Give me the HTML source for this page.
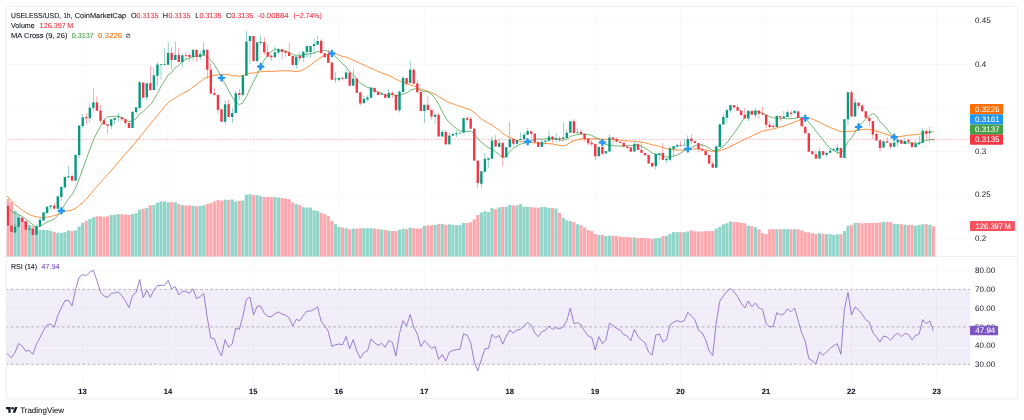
<!DOCTYPE html>
<html lang="en"><head><meta charset="utf-8"><title>USELESS/USD chart</title>
<style>
html,body{margin:0;padding:0;background:#fff;}
body{width:1024px;height:420px;position:relative;overflow:hidden;font-family:"Liberation Sans",sans-serif;text-rendering:geometricPrecision;}
#chart{position:absolute;left:0;top:0;width:1024px;height:420px;font-family:"Liberation Sans",sans-serif;}
</style></head><body>
<svg id="chart" width="1024" height="420" viewBox="0 0 1024 420">
<rect x="6.2" y="6.3" width="1011.5" height="392.65" rx="1.2" fill="#fff" stroke="#eaedf4" stroke-width="1"/>
<g id="grid" fill="#2a2e39" fill-opacity="0.042">
<rect x="82.15" y="6.8" width="0.7" height="375.4" />
<rect x="167.58" y="6.8" width="0.7" height="375.4" />
<rect x="253.00" y="6.8" width="0.7" height="375.4" />
<rect x="338.43" y="6.8" width="0.7" height="375.4" />
<rect x="423.85" y="6.8" width="0.7" height="375.4" />
<rect x="509.28" y="6.8" width="0.7" height="375.4" />
<rect x="594.70" y="6.8" width="0.7" height="375.4" />
<rect x="680.13" y="6.8" width="0.7" height="375.4" />
<rect x="765.56" y="6.8" width="0.7" height="375.4" />
<rect x="850.98" y="6.8" width="0.7" height="375.4" />
<rect x="936.41" y="6.8" width="0.7" height="375.4" />
<rect x="6.7" y="20.00" width="963.5" height="0.7"/>
<rect x="6.7" y="64.10" width="963.5" height="0.7"/>
<rect x="6.7" y="107.20" width="963.5" height="0.7"/>
<rect x="6.7" y="151.05" width="963.5" height="0.7"/>
<rect x="6.7" y="194.90" width="963.5" height="0.7"/>
<rect x="6.7" y="238.15" width="963.5" height="0.7"/>
<rect x="6.7" y="270.32" width="963.5" height="0.7"/>
<rect x="6.7" y="307.77" width="963.5" height="0.7"/>
<rect x="6.7" y="345.22" width="963.5" height="0.7"/>
</g>
<rect x="6.3" y="256.05" width="1011.3" height="0.9" fill="#eceef4"/>
<g id="rsiband">
<rect x="6.8" y="289.40" width="963.4" height="74.90" fill="#7e57c2" fill-opacity="0.1"/>
<path d="M6.8,289.40H970.2M6.8,326.85H970.2M6.8,364.30H970.2" stroke="#787b86" stroke-width="0.6" stroke-dasharray="2.7,2.42" stroke-dashoffset="1.2" fill="none" opacity="0.9"/>
</g>
<g id="volume">
<rect x="6.80" y="198.68" width="2.75" height="57.82" fill="#fba9af"/>
<rect x="9.91" y="202.20" width="3.20" height="54.30" fill="#fba9af"/>
<rect x="13.47" y="210.65" width="3.20" height="45.85" fill="#91d5ca"/>
<rect x="17.03" y="215.05" width="3.20" height="41.45" fill="#91d5ca"/>
<rect x="20.59" y="217.69" width="3.20" height="38.81" fill="#fba9af"/>
<rect x="24.15" y="221.21" width="3.20" height="35.29" fill="#fba9af"/>
<rect x="27.71" y="225.08" width="3.20" height="31.42" fill="#91d5ca"/>
<rect x="31.27" y="226.14" width="3.20" height="30.36" fill="#fba9af"/>
<rect x="34.83" y="226.85" width="3.20" height="29.65" fill="#91d5ca"/>
<rect x="38.39" y="230.01" width="3.20" height="26.49" fill="#91d5ca"/>
<rect x="41.95" y="230.01" width="3.20" height="26.49" fill="#91d5ca"/>
<rect x="45.51" y="230.01" width="3.20" height="26.49" fill="#91d5ca"/>
<rect x="49.07" y="230.89" width="3.20" height="25.61" fill="#91d5ca"/>
<rect x="52.63" y="232.13" width="3.20" height="24.37" fill="#fba9af"/>
<rect x="56.18" y="232.83" width="3.20" height="23.67" fill="#91d5ca"/>
<rect x="59.74" y="232.83" width="3.20" height="23.67" fill="#91d5ca"/>
<rect x="63.30" y="232.13" width="3.20" height="24.37" fill="#91d5ca"/>
<rect x="66.86" y="230.37" width="3.20" height="26.13" fill="#91d5ca"/>
<rect x="70.42" y="231.07" width="3.20" height="25.43" fill="#fba9af"/>
<rect x="73.98" y="230.37" width="3.20" height="26.13" fill="#91d5ca"/>
<rect x="77.54" y="226.49" width="3.20" height="30.01" fill="#91d5ca"/>
<rect x="81.10" y="222.97" width="3.20" height="33.53" fill="#91d5ca"/>
<rect x="84.66" y="220.86" width="3.20" height="35.64" fill="#fba9af"/>
<rect x="88.22" y="219.10" width="3.20" height="37.40" fill="#91d5ca"/>
<rect x="91.78" y="217.34" width="3.20" height="39.16" fill="#91d5ca"/>
<rect x="95.34" y="216.28" width="3.20" height="40.22" fill="#fba9af"/>
<rect x="98.90" y="216.28" width="3.20" height="40.22" fill="#fba9af"/>
<rect x="102.46" y="216.81" width="3.20" height="39.69" fill="#fba9af"/>
<rect x="106.02" y="216.28" width="3.20" height="40.22" fill="#fba9af"/>
<rect x="109.58" y="215.05" width="3.20" height="41.45" fill="#91d5ca"/>
<rect x="113.14" y="214.70" width="3.20" height="41.80" fill="#91d5ca"/>
<rect x="116.69" y="214.17" width="3.20" height="42.33" fill="#91d5ca"/>
<rect x="120.25" y="214.17" width="3.20" height="42.33" fill="#fba9af"/>
<rect x="123.81" y="214.52" width="3.20" height="41.98" fill="#fba9af"/>
<rect x="127.37" y="215.05" width="3.20" height="41.45" fill="#fba9af"/>
<rect x="130.93" y="214.17" width="3.20" height="42.33" fill="#91d5ca"/>
<rect x="134.49" y="213.29" width="3.20" height="43.21" fill="#91d5ca"/>
<rect x="138.05" y="209.77" width="3.20" height="46.73" fill="#91d5ca"/>
<rect x="141.61" y="208.89" width="3.20" height="47.61" fill="#fba9af"/>
<rect x="145.17" y="208.01" width="3.20" height="48.49" fill="#91d5ca"/>
<rect x="148.73" y="205.37" width="3.20" height="51.13" fill="#fba9af"/>
<rect x="152.29" y="205.01" width="3.20" height="51.49" fill="#91d5ca"/>
<rect x="155.85" y="202.73" width="3.20" height="53.77" fill="#91d5ca"/>
<rect x="159.41" y="201.49" width="3.20" height="55.01" fill="#91d5ca"/>
<rect x="162.97" y="201.49" width="3.20" height="55.01" fill="#91d5ca"/>
<rect x="166.53" y="202.20" width="3.20" height="54.30" fill="#91d5ca"/>
<rect x="170.09" y="202.20" width="3.20" height="54.30" fill="#fba9af"/>
<rect x="173.65" y="202.20" width="3.20" height="54.30" fill="#91d5ca"/>
<rect x="177.20" y="204.13" width="3.20" height="52.37" fill="#fba9af"/>
<rect x="180.76" y="205.01" width="3.20" height="51.49" fill="#91d5ca"/>
<rect x="184.32" y="205.37" width="3.20" height="51.13" fill="#fba9af"/>
<rect x="187.88" y="205.37" width="3.20" height="51.13" fill="#fba9af"/>
<rect x="191.44" y="205.89" width="3.20" height="50.61" fill="#91d5ca"/>
<rect x="195.00" y="206.25" width="3.20" height="50.25" fill="#fba9af"/>
<rect x="198.56" y="205.89" width="3.20" height="50.61" fill="#91d5ca"/>
<rect x="202.12" y="205.37" width="3.20" height="51.13" fill="#91d5ca"/>
<rect x="205.68" y="203.96" width="3.20" height="52.54" fill="#fba9af"/>
<rect x="209.24" y="203.08" width="3.20" height="53.42" fill="#fba9af"/>
<rect x="212.80" y="201.49" width="3.20" height="55.01" fill="#fba9af"/>
<rect x="216.36" y="200.08" width="3.20" height="56.42" fill="#fba9af"/>
<rect x="219.92" y="200.61" width="3.20" height="55.89" fill="#fba9af"/>
<rect x="223.48" y="199.56" width="3.20" height="56.94" fill="#91d5ca"/>
<rect x="227.04" y="200.08" width="3.20" height="56.42" fill="#fba9af"/>
<rect x="230.60" y="199.56" width="3.20" height="56.94" fill="#91d5ca"/>
<rect x="234.15" y="201.49" width="3.20" height="55.01" fill="#91d5ca"/>
<rect x="237.71" y="200.96" width="3.20" height="55.54" fill="#fba9af"/>
<rect x="241.27" y="200.61" width="3.20" height="55.89" fill="#91d5ca"/>
<rect x="244.83" y="194.80" width="3.20" height="61.70" fill="#91d5ca"/>
<rect x="248.39" y="194.10" width="3.20" height="62.40" fill="#91d5ca"/>
<rect x="251.95" y="195.15" width="3.20" height="61.35" fill="#fba9af"/>
<rect x="255.51" y="195.15" width="3.20" height="61.35" fill="#91d5ca"/>
<rect x="259.07" y="196.21" width="3.20" height="60.29" fill="#91d5ca"/>
<rect x="262.63" y="196.92" width="3.20" height="59.58" fill="#fba9af"/>
<rect x="266.19" y="196.92" width="3.20" height="59.58" fill="#fba9af"/>
<rect x="269.75" y="197.09" width="3.20" height="59.41" fill="#fba9af"/>
<rect x="273.31" y="197.09" width="3.20" height="59.41" fill="#91d5ca"/>
<rect x="276.87" y="197.62" width="3.20" height="58.88" fill="#91d5ca"/>
<rect x="280.43" y="197.97" width="3.20" height="58.53" fill="#fba9af"/>
<rect x="283.99" y="198.68" width="3.20" height="57.82" fill="#fba9af"/>
<rect x="287.55" y="199.20" width="3.20" height="57.30" fill="#fba9af"/>
<rect x="291.11" y="202.37" width="3.20" height="54.13" fill="#fba9af"/>
<rect x="294.66" y="203.96" width="3.20" height="52.54" fill="#91d5ca"/>
<rect x="298.22" y="205.01" width="3.20" height="51.49" fill="#fba9af"/>
<rect x="301.78" y="207.13" width="3.20" height="49.37" fill="#91d5ca"/>
<rect x="305.34" y="207.65" width="3.20" height="48.85" fill="#91d5ca"/>
<rect x="308.90" y="207.65" width="3.20" height="48.85" fill="#91d5ca"/>
<rect x="312.46" y="210.30" width="3.20" height="46.20" fill="#91d5ca"/>
<rect x="316.02" y="211.00" width="3.20" height="45.50" fill="#91d5ca"/>
<rect x="319.58" y="212.94" width="3.20" height="43.56" fill="#fba9af"/>
<rect x="323.14" y="214.17" width="3.20" height="42.33" fill="#fba9af"/>
<rect x="326.70" y="215.93" width="3.20" height="40.57" fill="#fba9af"/>
<rect x="330.26" y="220.86" width="3.20" height="35.64" fill="#fba9af"/>
<rect x="333.82" y="224.20" width="3.20" height="32.30" fill="#91d5ca"/>
<rect x="337.38" y="226.85" width="3.20" height="29.65" fill="#91d5ca"/>
<rect x="340.94" y="227.55" width="3.20" height="28.95" fill="#fba9af"/>
<rect x="344.50" y="228.25" width="3.20" height="28.25" fill="#91d5ca"/>
<rect x="348.06" y="229.31" width="3.20" height="27.19" fill="#fba9af"/>
<rect x="351.61" y="228.61" width="3.20" height="27.89" fill="#91d5ca"/>
<rect x="355.17" y="228.61" width="3.20" height="27.89" fill="#fba9af"/>
<rect x="358.73" y="228.25" width="3.20" height="28.25" fill="#fba9af"/>
<rect x="362.29" y="228.25" width="3.20" height="28.25" fill="#91d5ca"/>
<rect x="365.85" y="228.25" width="3.20" height="28.25" fill="#91d5ca"/>
<rect x="369.41" y="228.25" width="3.20" height="28.25" fill="#91d5ca"/>
<rect x="372.97" y="228.61" width="3.20" height="27.89" fill="#fba9af"/>
<rect x="376.53" y="229.13" width="3.20" height="27.37" fill="#fba9af"/>
<rect x="380.09" y="229.49" width="3.20" height="27.01" fill="#91d5ca"/>
<rect x="383.65" y="230.01" width="3.20" height="26.49" fill="#fba9af"/>
<rect x="387.21" y="230.54" width="3.20" height="25.96" fill="#91d5ca"/>
<rect x="390.77" y="231.07" width="3.20" height="25.43" fill="#fba9af"/>
<rect x="394.33" y="231.07" width="3.20" height="25.43" fill="#fba9af"/>
<rect x="397.89" y="229.66" width="3.20" height="26.84" fill="#91d5ca"/>
<rect x="401.45" y="228.61" width="3.20" height="27.89" fill="#91d5ca"/>
<rect x="405.01" y="229.13" width="3.20" height="27.37" fill="#fba9af"/>
<rect x="408.57" y="227.55" width="3.20" height="28.95" fill="#91d5ca"/>
<rect x="412.12" y="228.25" width="3.20" height="28.25" fill="#fba9af"/>
<rect x="415.68" y="228.61" width="3.20" height="27.89" fill="#fba9af"/>
<rect x="419.24" y="228.25" width="3.20" height="28.25" fill="#fba9af"/>
<rect x="422.80" y="225.96" width="3.20" height="30.54" fill="#91d5ca"/>
<rect x="426.36" y="225.26" width="3.20" height="31.24" fill="#fba9af"/>
<rect x="429.92" y="225.26" width="3.20" height="31.24" fill="#fba9af"/>
<rect x="433.48" y="224.91" width="3.20" height="31.59" fill="#91d5ca"/>
<rect x="437.04" y="223.85" width="3.20" height="32.65" fill="#fba9af"/>
<rect x="440.60" y="223.85" width="3.20" height="32.65" fill="#91d5ca"/>
<rect x="444.16" y="224.73" width="3.20" height="31.77" fill="#fba9af"/>
<rect x="447.72" y="224.20" width="3.20" height="32.30" fill="#91d5ca"/>
<rect x="451.28" y="224.91" width="3.20" height="31.59" fill="#91d5ca"/>
<rect x="454.84" y="225.26" width="3.20" height="31.24" fill="#91d5ca"/>
<rect x="458.40" y="225.26" width="3.20" height="31.24" fill="#91d5ca"/>
<rect x="461.96" y="222.97" width="3.20" height="33.53" fill="#91d5ca"/>
<rect x="465.52" y="222.97" width="3.20" height="33.53" fill="#fba9af"/>
<rect x="469.08" y="222.27" width="3.20" height="34.23" fill="#fba9af"/>
<rect x="472.63" y="219.45" width="3.20" height="37.05" fill="#fba9af"/>
<rect x="476.19" y="215.05" width="3.20" height="41.45" fill="#fba9af"/>
<rect x="479.75" y="212.41" width="3.20" height="44.09" fill="#91d5ca"/>
<rect x="483.31" y="211.18" width="3.20" height="45.32" fill="#91d5ca"/>
<rect x="486.87" y="212.06" width="3.20" height="44.44" fill="#91d5ca"/>
<rect x="490.43" y="208.18" width="3.20" height="48.32" fill="#91d5ca"/>
<rect x="493.99" y="209.24" width="3.20" height="47.26" fill="#fba9af"/>
<rect x="497.55" y="207.30" width="3.20" height="49.20" fill="#91d5ca"/>
<rect x="501.11" y="206.77" width="3.20" height="49.73" fill="#fba9af"/>
<rect x="504.67" y="206.77" width="3.20" height="49.73" fill="#91d5ca"/>
<rect x="508.23" y="205.01" width="3.20" height="51.49" fill="#91d5ca"/>
<rect x="511.79" y="205.37" width="3.20" height="51.13" fill="#fba9af"/>
<rect x="515.35" y="205.37" width="3.20" height="51.13" fill="#91d5ca"/>
<rect x="518.91" y="204.13" width="3.20" height="52.37" fill="#91d5ca"/>
<rect x="522.47" y="206.77" width="3.20" height="49.73" fill="#91d5ca"/>
<rect x="526.03" y="206.77" width="3.20" height="49.73" fill="#91d5ca"/>
<rect x="529.58" y="207.13" width="3.20" height="49.37" fill="#fba9af"/>
<rect x="533.14" y="207.65" width="3.20" height="48.85" fill="#fba9af"/>
<rect x="536.70" y="207.65" width="3.20" height="48.85" fill="#fba9af"/>
<rect x="540.26" y="207.13" width="3.20" height="49.37" fill="#91d5ca"/>
<rect x="543.82" y="207.13" width="3.20" height="49.37" fill="#91d5ca"/>
<rect x="547.38" y="208.01" width="3.20" height="48.49" fill="#91d5ca"/>
<rect x="550.94" y="208.01" width="3.20" height="48.49" fill="#fba9af"/>
<rect x="554.50" y="208.54" width="3.20" height="47.96" fill="#91d5ca"/>
<rect x="558.06" y="212.94" width="3.20" height="43.56" fill="#fba9af"/>
<rect x="561.62" y="217.69" width="3.20" height="38.81" fill="#91d5ca"/>
<rect x="565.18" y="220.33" width="3.20" height="36.17" fill="#91d5ca"/>
<rect x="568.74" y="221.21" width="3.20" height="35.29" fill="#91d5ca"/>
<rect x="572.30" y="222.09" width="3.20" height="34.41" fill="#fba9af"/>
<rect x="575.86" y="224.20" width="3.20" height="32.30" fill="#91d5ca"/>
<rect x="579.42" y="225.26" width="3.20" height="31.24" fill="#fba9af"/>
<rect x="582.98" y="227.55" width="3.20" height="28.95" fill="#fba9af"/>
<rect x="586.54" y="230.01" width="3.20" height="26.49" fill="#fba9af"/>
<rect x="590.09" y="231.07" width="3.20" height="25.43" fill="#fba9af"/>
<rect x="593.65" y="234.06" width="3.20" height="22.44" fill="#fba9af"/>
<rect x="597.21" y="234.94" width="3.20" height="21.56" fill="#91d5ca"/>
<rect x="600.77" y="234.94" width="3.20" height="21.56" fill="#fba9af"/>
<rect x="604.33" y="236.00" width="3.20" height="20.50" fill="#91d5ca"/>
<rect x="607.89" y="235.65" width="3.20" height="20.85" fill="#91d5ca"/>
<rect x="611.45" y="235.65" width="3.20" height="20.85" fill="#fba9af"/>
<rect x="615.01" y="236.18" width="3.20" height="20.32" fill="#fba9af"/>
<rect x="618.57" y="236.53" width="3.20" height="19.97" fill="#fba9af"/>
<rect x="622.13" y="237.06" width="3.20" height="19.44" fill="#fba9af"/>
<rect x="625.69" y="237.06" width="3.20" height="19.44" fill="#fba9af"/>
<rect x="629.25" y="237.41" width="3.20" height="19.09" fill="#fba9af"/>
<rect x="632.81" y="237.41" width="3.20" height="19.09" fill="#91d5ca"/>
<rect x="636.37" y="237.94" width="3.20" height="18.56" fill="#fba9af"/>
<rect x="639.93" y="237.94" width="3.20" height="18.56" fill="#fba9af"/>
<rect x="643.49" y="237.94" width="3.20" height="18.56" fill="#fba9af"/>
<rect x="647.05" y="238.29" width="3.20" height="18.21" fill="#fba9af"/>
<rect x="650.60" y="238.82" width="3.20" height="17.68" fill="#fba9af"/>
<rect x="654.16" y="238.29" width="3.20" height="18.21" fill="#91d5ca"/>
<rect x="657.72" y="237.94" width="3.20" height="18.56" fill="#91d5ca"/>
<rect x="661.28" y="236.18" width="3.20" height="20.32" fill="#fba9af"/>
<rect x="664.84" y="235.65" width="3.20" height="20.85" fill="#91d5ca"/>
<rect x="668.40" y="233.89" width="3.20" height="22.61" fill="#91d5ca"/>
<rect x="671.96" y="232.13" width="3.20" height="24.37" fill="#91d5ca"/>
<rect x="675.52" y="232.13" width="3.20" height="24.37" fill="#91d5ca"/>
<rect x="679.08" y="232.13" width="3.20" height="24.37" fill="#fba9af"/>
<rect x="682.64" y="232.13" width="3.20" height="24.37" fill="#91d5ca"/>
<rect x="686.20" y="231.42" width="3.20" height="25.08" fill="#91d5ca"/>
<rect x="689.76" y="230.37" width="3.20" height="26.13" fill="#fba9af"/>
<rect x="693.32" y="231.42" width="3.20" height="25.08" fill="#fba9af"/>
<rect x="696.88" y="231.42" width="3.20" height="25.08" fill="#fba9af"/>
<rect x="700.44" y="231.42" width="3.20" height="25.08" fill="#fba9af"/>
<rect x="704.00" y="231.07" width="3.20" height="25.43" fill="#fba9af"/>
<rect x="707.55" y="231.07" width="3.20" height="25.43" fill="#fba9af"/>
<rect x="711.11" y="231.07" width="3.20" height="25.43" fill="#fba9af"/>
<rect x="714.67" y="228.61" width="3.20" height="27.89" fill="#91d5ca"/>
<rect x="718.23" y="226.85" width="3.20" height="29.65" fill="#91d5ca"/>
<rect x="721.79" y="224.20" width="3.20" height="32.30" fill="#91d5ca"/>
<rect x="725.35" y="223.32" width="3.20" height="33.18" fill="#91d5ca"/>
<rect x="728.91" y="221.39" width="3.20" height="35.11" fill="#91d5ca"/>
<rect x="732.47" y="222.09" width="3.20" height="34.41" fill="#fba9af"/>
<rect x="736.03" y="222.09" width="3.20" height="34.41" fill="#fba9af"/>
<rect x="739.59" y="222.97" width="3.20" height="33.53" fill="#fba9af"/>
<rect x="743.15" y="223.32" width="3.20" height="33.18" fill="#fba9af"/>
<rect x="746.71" y="225.79" width="3.20" height="30.71" fill="#91d5ca"/>
<rect x="750.27" y="226.14" width="3.20" height="30.36" fill="#fba9af"/>
<rect x="753.83" y="227.20" width="3.20" height="29.30" fill="#91d5ca"/>
<rect x="757.39" y="229.31" width="3.20" height="27.19" fill="#fba9af"/>
<rect x="760.95" y="233.18" width="3.20" height="23.32" fill="#fba9af"/>
<rect x="764.51" y="234.24" width="3.20" height="22.26" fill="#fba9af"/>
<rect x="768.06" y="229.31" width="3.20" height="27.19" fill="#fba9af"/>
<rect x="771.62" y="229.31" width="3.20" height="27.19" fill="#fba9af"/>
<rect x="775.18" y="229.31" width="3.20" height="27.19" fill="#91d5ca"/>
<rect x="778.74" y="229.13" width="3.20" height="27.37" fill="#fba9af"/>
<rect x="782.30" y="229.13" width="3.20" height="27.37" fill="#91d5ca"/>
<rect x="785.86" y="229.13" width="3.20" height="27.37" fill="#91d5ca"/>
<rect x="789.42" y="229.31" width="3.20" height="27.19" fill="#fba9af"/>
<rect x="792.98" y="229.31" width="3.20" height="27.19" fill="#91d5ca"/>
<rect x="796.54" y="229.31" width="3.20" height="27.19" fill="#fba9af"/>
<rect x="800.10" y="230.37" width="3.20" height="26.13" fill="#fba9af"/>
<rect x="803.66" y="232.13" width="3.20" height="24.37" fill="#fba9af"/>
<rect x="807.22" y="232.13" width="3.20" height="24.37" fill="#fba9af"/>
<rect x="810.78" y="233.18" width="3.20" height="23.32" fill="#fba9af"/>
<rect x="814.34" y="234.06" width="3.20" height="22.44" fill="#fba9af"/>
<rect x="817.90" y="233.18" width="3.20" height="23.32" fill="#91d5ca"/>
<rect x="821.46" y="233.89" width="3.20" height="22.61" fill="#fba9af"/>
<rect x="825.02" y="234.06" width="3.20" height="22.44" fill="#91d5ca"/>
<rect x="828.57" y="234.24" width="3.20" height="22.26" fill="#91d5ca"/>
<rect x="832.13" y="234.77" width="3.20" height="21.73" fill="#91d5ca"/>
<rect x="835.69" y="234.24" width="3.20" height="22.26" fill="#91d5ca"/>
<rect x="839.25" y="234.24" width="3.20" height="22.26" fill="#fba9af"/>
<rect x="842.81" y="231.07" width="3.20" height="25.43" fill="#91d5ca"/>
<rect x="846.37" y="225.79" width="3.20" height="30.71" fill="#91d5ca"/>
<rect x="849.93" y="225.08" width="3.20" height="31.42" fill="#fba9af"/>
<rect x="853.49" y="222.97" width="3.20" height="33.53" fill="#91d5ca"/>
<rect x="857.05" y="222.97" width="3.20" height="33.53" fill="#fba9af"/>
<rect x="860.61" y="223.32" width="3.20" height="33.18" fill="#fba9af"/>
<rect x="864.17" y="222.97" width="3.20" height="33.53" fill="#fba9af"/>
<rect x="867.73" y="222.97" width="3.20" height="33.53" fill="#fba9af"/>
<rect x="871.29" y="222.97" width="3.20" height="33.53" fill="#fba9af"/>
<rect x="874.85" y="222.97" width="3.20" height="33.53" fill="#fba9af"/>
<rect x="878.41" y="222.44" width="3.20" height="34.06" fill="#fba9af"/>
<rect x="881.97" y="222.09" width="3.20" height="34.41" fill="#91d5ca"/>
<rect x="885.52" y="222.09" width="3.20" height="34.41" fill="#fba9af"/>
<rect x="889.08" y="222.09" width="3.20" height="34.41" fill="#fba9af"/>
<rect x="892.64" y="223.85" width="3.20" height="32.65" fill="#91d5ca"/>
<rect x="896.20" y="223.85" width="3.20" height="32.65" fill="#91d5ca"/>
<rect x="899.76" y="224.20" width="3.20" height="32.30" fill="#fba9af"/>
<rect x="903.32" y="224.73" width="3.20" height="31.77" fill="#91d5ca"/>
<rect x="906.88" y="225.08" width="3.20" height="31.42" fill="#fba9af"/>
<rect x="910.44" y="225.08" width="3.20" height="31.42" fill="#fba9af"/>
<rect x="914.00" y="225.79" width="3.20" height="30.71" fill="#91d5ca"/>
<rect x="917.56" y="225.08" width="3.20" height="31.42" fill="#91d5ca"/>
<rect x="921.12" y="224.20" width="3.20" height="32.30" fill="#91d5ca"/>
<rect x="924.68" y="224.20" width="3.20" height="32.30" fill="#fba9af"/>
<rect x="928.24" y="224.73" width="3.20" height="31.77" fill="#91d5ca"/>
<rect x="931.80" y="226.14" width="3.20" height="30.36" fill="#fba9af"/>
</g>
<path d="M6.8,139.36H970.2" stroke="#f23645" stroke-width="0.6" stroke-dasharray="2,1.35" stroke-dashoffset="1.6" fill="none" opacity="0.55"/>
<clipPath id="cp"><rect x="6.8" y="6.8" width="963.4" height="249"/></clipPath>
<clipPath id="cr"><rect x="6.8" y="257" width="963.4" height="125"/></clipPath>
<g clip-path="url(#cp)" fill="none" stroke-linejoin="round" stroke-linecap="round">
<path d="M4.39,193.00 L7.95,196.90 L11.51,200.90 L15.07,204.50 L18.63,207.50 L22.19,210.10 L25.75,212.40 L29.31,214.50 L32.87,215.90 L36.43,216.80 L39.99,217.40 L43.55,217.40 L47.11,217.10 L50.67,216.40 L54.23,215.70 L57.78,214.60 L61.34,212.60 L64.90,211.60 L68.46,210.80 L72.02,210.10 L75.58,208.40 L79.14,205.60 L82.70,202.50 L86.26,199.00 L89.82,195.00 L93.38,190.60 L96.94,186.55 L100.50,182.52 L104.06,178.39 L107.62,174.50 L111.18,170.71 L114.74,166.72 L118.29,162.36 L121.85,158.15 L125.41,153.84 L128.97,150.06 L132.53,145.91 L136.09,141.88 L139.65,137.09 L143.21,132.94 L146.77,128.12 L150.33,124.04 L153.89,119.75 L157.45,115.43 L161.01,111.12 L164.57,106.63 L168.13,102.72 L171.69,100.20 L175.25,97.80 L178.80,95.63 L182.36,93.62 L185.92,91.83 L189.48,89.76 L193.04,87.03 L196.60,84.43 L200.16,81.68 L203.72,79.00 L207.28,77.15 L210.84,76.27 L214.40,75.33 L217.96,74.83 L221.52,74.59 L225.08,74.30 L228.64,74.67 L232.20,75.85 L235.75,75.68 L239.31,76.12 L242.87,75.55 L246.43,74.25 L249.99,73.15 L253.55,73.03 L257.11,72.19 L260.67,71.76 L264.23,71.46 L267.79,71.52 L271.35,71.34 L274.91,71.22 L278.47,70.97 L282.03,70.76 L285.59,70.88 L289.15,70.84 L292.71,71.26 L296.26,71.52 L299.82,71.08 L303.38,69.47 L306.94,67.59 L310.50,65.13 L314.06,62.14 L317.62,59.71 L321.18,57.26 L324.74,55.12 L328.30,53.95 L331.86,53.37 L335.42,53.49 L338.98,54.88 L342.54,56.53 L346.10,56.97 L349.66,58.64 L353.21,60.06 L356.77,61.62 L360.33,63.43 L363.89,65.02 L367.45,66.76 L371.01,68.24 L374.57,69.80 L378.13,71.42 L381.69,72.87 L385.25,74.13 L388.81,75.52 L392.37,76.93 L395.93,79.19 L399.49,80.94 L403.05,82.17 L406.61,83.68 L410.17,84.79 L413.72,85.96 L417.28,87.31 L420.84,89.16 L424.40,90.12 L427.96,91.33 L431.52,92.82 L435.08,94.20 L438.64,96.66 L442.20,98.44 L445.76,100.97 L449.32,102.62 L452.88,103.79 L456.44,105.11 L460.00,106.47 L463.56,107.64 L467.12,108.70 L470.68,110.00 L474.23,112.58 L477.79,115.86 L481.35,118.88 L484.91,121.34 L488.47,123.17 L492.03,125.06 L495.59,127.70 L499.15,129.99 L502.71,133.37 L506.27,135.81 L509.83,137.62 L513.39,138.88 L516.95,140.24 L520.51,141.35 L524.07,142.05 L527.63,142.68 L531.18,142.57 L534.74,142.97 L538.30,143.07 L541.86,143.31 L545.42,143.56 L548.98,143.69 L552.54,143.96 L556.10,144.73 L559.66,145.49 L563.22,145.82 L566.78,144.75 L570.34,142.37 L573.90,140.90 L577.46,139.88 L581.02,138.96 L584.58,138.89 L588.14,138.76 L591.69,138.81 L595.25,138.76 L598.81,138.75 L602.37,139.30 L605.93,139.58 L609.49,139.48 L613.05,139.49 L616.61,139.76 L620.17,140.22 L623.73,140.72 L627.29,140.94 L630.85,141.13 L634.41,141.22 L637.97,141.58 L641.53,142.20 L645.09,142.80 L648.65,143.78 L652.20,144.82 L655.76,145.46 L659.32,146.25 L662.88,147.73 L666.44,148.71 L670.00,149.33 L673.56,149.79 L677.12,150.02 L680.68,150.12 L684.24,150.14 L687.80,149.48 L691.36,149.25 L694.92,148.84 L698.48,148.77 L702.04,149.29 L705.60,149.90 L709.15,150.75 L712.71,151.70 L716.27,151.69 L719.83,150.77 L723.39,149.44 L726.95,148.12 L730.51,146.40 L734.07,144.67 L737.63,142.96 L741.19,141.09 L744.75,139.25 L748.31,137.58 L751.87,136.10 L755.43,134.20 L758.99,132.48 L762.55,131.19 L766.11,130.37 L769.66,129.68 L773.22,128.96 L776.78,127.84 L780.34,127.00 L783.90,126.05 L787.46,124.87 L791.02,123.51 L794.58,121.98 L798.14,120.55 L801.70,119.12 L805.26,117.79 L808.82,117.99 L812.38,119.14 L815.94,120.75 L819.50,122.32 L823.06,124.24 L826.62,125.98 L830.17,127.52 L833.73,128.83 L837.29,129.97 L840.85,131.77 L844.41,131.95 L847.97,131.25 L851.53,131.35 L855.09,130.88 L858.65,130.15 L862.21,129.55 L865.77,129.19 L869.33,129.39 L872.89,130.06 L876.45,130.99 L880.01,132.36 L883.57,133.41 L887.12,134.63 L890.68,135.75 L894.24,136.36 L897.80,136.62 L901.36,136.31 L904.92,135.80 L908.48,135.15 L912.04,135.00 L915.60,134.58 L919.16,134.18 L922.72,133.41 L926.28,132.81 L929.84,132.18 L933.40,131.49" stroke="#ff6d00" stroke-width="0.75"/>
<path d="M4.39,206.50 L7.95,208.30 L11.51,210.90 L15.07,213.24 L18.63,214.57 L22.19,216.36 L25.75,219.02 L29.31,221.57 L32.87,224.81 L36.43,227.08 L39.99,226.43 L43.55,224.25 L47.11,222.00 L50.67,220.65 L54.23,219.19 L57.78,215.47 L61.34,210.82 L64.90,204.36 L68.46,198.81 L72.02,194.46 L75.58,188.07 L79.14,179.06 L82.70,169.25 L86.26,159.19 L89.82,149.36 L93.38,139.97 L96.94,132.62 L100.50,126.46 L104.06,120.22 L107.62,117.00 L111.18,116.31 L114.74,116.38 L118.29,116.18 L121.85,117.46 L125.41,119.75 L128.97,121.67 L132.53,120.67 L136.09,118.76 L139.65,113.93 L143.21,111.54 L146.77,107.68 L150.33,104.76 L153.89,99.89 L157.45,93.39 L161.01,86.29 L164.57,81.00 L168.13,74.94 L171.69,72.47 L175.25,67.72 L178.80,65.36 L182.36,61.49 L185.92,59.31 L189.48,58.47 L193.04,56.88 L196.60,56.08 L200.16,56.22 L203.72,55.08 L207.28,56.72 L210.84,60.24 L214.40,64.62 L217.96,70.64 L221.52,77.83 L225.08,83.89 L228.64,90.56 L232.20,97.10 L235.75,101.93 L239.31,104.72 L242.87,102.68 L246.43,96.76 L249.99,88.56 L253.55,81.81 L257.11,74.92 L260.67,66.54 L264.23,59.79 L267.79,55.72 L271.35,51.54 L274.91,48.99 L278.47,49.82 L282.03,51.56 L285.59,50.65 L289.15,52.18 L292.71,54.78 L296.26,55.26 L299.82,55.44 L303.38,54.82 L306.94,54.12 L310.50,53.78 L314.06,52.94 L317.62,51.62 L321.18,51.32 L324.74,50.46 L328.30,51.15 L331.86,53.54 L335.42,56.53 L338.98,60.07 L342.54,63.71 L346.10,66.86 L349.66,71.83 L353.21,74.64 L356.77,78.60 L360.33,83.11 L363.89,85.22 L367.45,87.33 L371.01,88.40 L374.57,89.90 L378.13,92.40 L381.69,93.26 L385.25,95.42 L388.81,95.42 L392.37,94.44 L395.93,95.74 L399.49,95.08 L403.05,94.01 L406.61,93.04 L410.17,90.24 L413.72,89.15 L417.28,88.53 L420.84,90.54 L424.40,91.65 L427.96,91.61 L431.52,94.38 L435.08,98.47 L438.64,104.36 L442.20,111.26 L445.76,118.00 L449.32,122.82 L452.88,125.38 L456.44,128.53 L460.00,131.06 L463.56,131.24 L467.12,131.79 L470.68,130.93 L474.23,134.12 L477.79,138.43 L481.35,142.39 L484.91,145.14 L488.47,147.92 L492.03,148.79 L495.59,151.94 L499.15,154.54 L502.71,157.74 L506.27,156.25 L509.83,151.39 L513.39,148.33 L516.95,146.25 L520.51,144.12 L524.07,143.47 L527.63,141.75 L531.18,140.71 L534.74,139.01 L538.30,138.97 L541.86,139.25 L545.42,138.90 L548.98,138.51 L552.54,138.60 L556.10,138.97 L559.66,139.90 L563.22,140.32 L566.78,139.26 L570.34,136.42 L573.90,135.44 L577.46,134.51 L581.02,134.24 L584.58,134.15 L588.14,134.71 L591.69,135.26 L595.25,137.35 L598.81,138.92 L602.37,142.53 L605.93,144.51 L609.49,145.08 L613.05,145.67 L616.61,145.97 L620.17,145.96 L623.73,146.22 L627.29,145.31 L630.85,145.85 L634.41,144.79 L637.97,144.67 L641.53,146.38 L645.09,148.15 L648.65,150.58 L652.20,153.19 L655.76,154.00 L659.32,154.58 L662.88,155.49 L666.44,157.08 L670.00,156.90 L673.56,156.17 L677.12,155.01 L680.68,153.03 L684.24,150.62 L687.80,148.96 L691.36,147.61 L694.92,145.74 L698.48,144.69 L702.04,144.97 L705.60,145.99 L709.15,148.07 L712.71,150.51 L716.27,150.69 L719.83,149.06 L723.39,146.38 L726.95,142.72 L730.51,137.82 L734.07,133.03 L737.63,128.08 L741.19,122.69 L744.75,117.22 L748.31,113.25 L751.87,112.19 L755.43,111.47 L758.99,111.89 L762.55,112.96 L766.11,114.86 L769.66,116.67 L773.22,117.99 L776.78,117.68 L780.34,118.40 L783.90,118.58 L787.46,118.78 L791.02,118.78 L794.58,118.36 L798.14,117.61 L801.70,117.54 L805.26,118.24 L808.82,122.24 L812.38,126.35 L815.94,131.04 L819.50,135.36 L823.06,139.92 L826.62,144.58 L830.17,148.22 L833.73,150.76 L837.29,152.40 L840.85,153.07 L844.41,149.18 L847.97,141.81 L851.53,137.96 L855.09,132.14 L858.65,126.92 L862.21,122.53 L865.77,119.03 L869.33,116.03 L872.89,113.44 L876.45,115.81 L880.01,122.00 L883.57,124.75 L887.12,129.22 L890.68,133.76 L894.24,137.21 L897.80,139.68 L901.36,142.21 L904.92,142.93 L908.48,143.08 L912.04,143.00 L915.60,143.28 L919.16,143.28 L922.72,141.47 L926.28,140.53 L929.84,139.58 L933.40,139.14" stroke="#43a047" stroke-width="0.75"/>
<path d="M58.74,210.82H63.94M61.34,208.22V213.42" stroke="#2196f3" stroke-width="2.4" fill="none"/>
<path d="M218.92,77.83H224.12M221.52,75.23V80.43" stroke="#2196f3" stroke-width="2.4" fill="none"/>
<path d="M258.07,66.54H263.27M260.67,63.94V69.14" stroke="#2196f3" stroke-width="2.4" fill="none"/>
<path d="M329.26,53.54H334.46M331.86,50.94V56.14" stroke="#2196f3" stroke-width="2.4" fill="none"/>
<path d="M525.03,141.75H530.23M527.63,139.15V144.35" stroke="#2196f3" stroke-width="2.4" fill="none"/>
<path d="M599.77,142.53H604.97M602.37,139.93V145.13" stroke="#2196f3" stroke-width="2.4" fill="none"/>
<path d="M685.20,148.96H690.40M687.80,146.36V151.56" stroke="#2196f3" stroke-width="2.4" fill="none"/>
<path d="M802.66,118.24H807.86M805.26,115.64V120.84" stroke="#2196f3" stroke-width="2.4" fill="none"/>
<path d="M856.05,126.92H861.25M858.65,124.32V129.52" stroke="#2196f3" stroke-width="2.4" fill="none"/>
<path d="M891.64,137.21H896.84M894.24,134.61V139.81" stroke="#2196f3" stroke-width="2.4" fill="none"/>

</g>
<g id="candles" clip-path="url(#cp)">
<rect x="6.80" y="205.62" width="2.35" height="20.00" fill="#f23645"/>
<rect x="10.31" y="225.62" width="2.40" height="6.25" fill="#f23645"/>
<rect x="14.87" y="223.75" width="0.4" height="9.38" fill="#089981"/>
<rect x="13.87" y="226.88" width="2.40" height="5.62" fill="#089981"/>
<rect x="17.43" y="217.75" width="2.40" height="9.12" fill="#089981"/>
<rect x="20.99" y="217.75" width="2.40" height="4.12" fill="#f23645"/>
<rect x="24.55" y="221.25" width="2.40" height="8.50" fill="#f23645"/>
<rect x="29.11" y="225.38" width="0.4" height="4.62" fill="#089981"/>
<rect x="28.11" y="228.75" width="2.40" height="1.00" fill="#089981"/>
<rect x="31.67" y="228.75" width="2.40" height="6.25" fill="#f23645"/>
<rect x="36.23" y="224.38" width="0.4" height="10.38" fill="#089981"/>
<rect x="35.23" y="226.25" width="2.40" height="8.50" fill="#089981"/>
<rect x="39.79" y="218.50" width="0.4" height="7.75" fill="#089981"/>
<rect x="38.79" y="219.75" width="2.40" height="6.50" fill="#089981"/>
<rect x="42.35" y="212.25" width="2.40" height="8.38" fill="#089981"/>
<rect x="45.91" y="206.62" width="2.40" height="6.50" fill="#089981"/>
<rect x="50.47" y="205.00" width="0.4" height="4.75" fill="#089981"/>
<rect x="49.47" y="205.62" width="2.40" height="1.25" fill="#089981"/>
<rect x="54.03" y="202.88" width="0.4" height="5.88" fill="#f23645"/>
<rect x="53.03" y="205.62" width="2.40" height="3.12" fill="#f23645"/>
<rect x="56.58" y="196.25" width="2.40" height="12.50" fill="#089981"/>
<rect x="61.14" y="186.88" width="0.4" height="13.75" fill="#089981"/>
<rect x="60.14" y="186.88" width="2.40" height="10.00" fill="#089981"/>
<rect x="63.70" y="176.88" width="2.40" height="10.62" fill="#089981"/>
<rect x="68.26" y="166.25" width="0.4" height="11.25" fill="#089981"/>
<rect x="67.26" y="176.25" width="2.40" height="1.25" fill="#089981"/>
<rect x="71.82" y="174.00" width="0.4" height="6.62" fill="#f23645"/>
<rect x="70.82" y="176.00" width="2.40" height="4.62" fill="#f23645"/>
<rect x="74.38" y="154.75" width="2.40" height="25.88" fill="#089981"/>
<rect x="78.94" y="125.50" width="0.4" height="32.62" fill="#089981"/>
<rect x="77.94" y="125.50" width="2.40" height="29.50" fill="#089981"/>
<rect x="82.50" y="114.00" width="0.4" height="14.00" fill="#089981"/>
<rect x="81.50" y="117.38" width="2.40" height="8.75" fill="#089981"/>
<rect x="86.06" y="113.00" width="0.4" height="11.25" fill="#f23645"/>
<rect x="85.06" y="117.00" width="2.40" height="1.25" fill="#f23645"/>
<rect x="89.62" y="103.25" width="0.4" height="19.12" fill="#089981"/>
<rect x="88.62" y="107.75" width="2.40" height="10.50" fill="#089981"/>
<rect x="93.18" y="88.00" width="0.4" height="22.50" fill="#089981"/>
<rect x="92.18" y="102.38" width="2.40" height="5.38" fill="#089981"/>
<rect x="96.74" y="96.12" width="0.4" height="14.62" fill="#f23645"/>
<rect x="95.74" y="102.38" width="2.40" height="8.38" fill="#f23645"/>
<rect x="100.30" y="104.88" width="0.4" height="18.12" fill="#f23645"/>
<rect x="99.30" y="110.50" width="2.40" height="10.25" fill="#f23645"/>
<rect x="103.86" y="117.38" width="0.4" height="7.12" fill="#f23645"/>
<rect x="102.86" y="120.25" width="2.40" height="4.25" fill="#f23645"/>
<rect x="107.42" y="124.25" width="0.4" height="9.38" fill="#f23645"/>
<rect x="106.42" y="124.25" width="2.40" height="1.50" fill="#f23645"/>
<rect x="110.98" y="119.25" width="0.4" height="9.75" fill="#089981"/>
<rect x="109.98" y="119.25" width="2.40" height="6.62" fill="#089981"/>
<rect x="114.54" y="118.00" width="0.4" height="6.25" fill="#089981"/>
<rect x="113.54" y="118.00" width="2.40" height="1.88" fill="#089981"/>
<rect x="118.09" y="113.00" width="0.4" height="8.50" fill="#089981"/>
<rect x="117.09" y="116.50" width="2.40" height="0.88" fill="#089981"/>
<rect x="121.65" y="117.38" width="0.4" height="3.75" fill="#f23645"/>
<rect x="120.65" y="117.38" width="2.40" height="1.88" fill="#f23645"/>
<rect x="125.21" y="119.25" width="0.4" height="5.62" fill="#f23645"/>
<rect x="124.21" y="119.25" width="2.40" height="3.75" fill="#f23645"/>
<rect x="127.77" y="123.00" width="2.40" height="5.00" fill="#f23645"/>
<rect x="131.33" y="111.75" width="2.40" height="16.25" fill="#089981"/>
<rect x="135.89" y="107.38" width="0.4" height="7.50" fill="#089981"/>
<rect x="134.89" y="107.38" width="2.40" height="4.62" fill="#089981"/>
<rect x="139.45" y="81.00" width="0.4" height="28.88" fill="#089981"/>
<rect x="138.45" y="82.25" width="2.40" height="25.75" fill="#089981"/>
<rect x="142.01" y="82.50" width="2.40" height="15.25" fill="#f23645"/>
<rect x="146.57" y="83.25" width="0.4" height="17.25" fill="#089981"/>
<rect x="145.57" y="83.25" width="2.40" height="14.12" fill="#089981"/>
<rect x="150.13" y="66.00" width="0.4" height="24.25" fill="#f23645"/>
<rect x="149.13" y="83.25" width="2.40" height="7.00" fill="#f23645"/>
<rect x="153.69" y="67.88" width="0.4" height="22.12" fill="#089981"/>
<rect x="152.69" y="75.38" width="2.40" height="14.62" fill="#089981"/>
<rect x="157.25" y="62.25" width="0.4" height="23.75" fill="#089981"/>
<rect x="156.25" y="64.50" width="2.40" height="11.25" fill="#089981"/>
<rect x="160.81" y="64.12" width="0.4" height="15.62" fill="#089981"/>
<rect x="159.81" y="64.12" width="2.40" height="0.70" fill="#089981"/>
<rect x="164.37" y="47.88" width="0.4" height="17.12" fill="#089981"/>
<rect x="163.37" y="64.12" width="2.40" height="0.88" fill="#089981"/>
<rect x="167.93" y="42.25" width="0.4" height="22.50" fill="#089981"/>
<rect x="166.93" y="52.88" width="2.40" height="11.88" fill="#089981"/>
<rect x="171.49" y="47.25" width="0.4" height="22.50" fill="#f23645"/>
<rect x="170.49" y="52.88" width="2.40" height="7.12" fill="#f23645"/>
<rect x="175.05" y="41.62" width="0.4" height="18.38" fill="#089981"/>
<rect x="174.05" y="55.00" width="2.40" height="5.00" fill="#089981"/>
<rect x="178.60" y="48.25" width="0.4" height="13.75" fill="#f23645"/>
<rect x="177.60" y="55.00" width="2.40" height="7.00" fill="#f23645"/>
<rect x="182.16" y="53.50" width="0.4" height="13.12" fill="#089981"/>
<rect x="181.16" y="55.38" width="2.40" height="6.62" fill="#089981"/>
<rect x="185.72" y="51.62" width="0.4" height="7.50" fill="#f23645"/>
<rect x="184.72" y="55.00" width="2.40" height="0.75" fill="#f23645"/>
<rect x="189.28" y="53.50" width="0.4" height="8.12" fill="#f23645"/>
<rect x="188.28" y="55.00" width="2.40" height="2.00" fill="#f23645"/>
<rect x="192.84" y="49.75" width="0.4" height="11.88" fill="#089981"/>
<rect x="191.84" y="49.75" width="2.40" height="7.25" fill="#089981"/>
<rect x="196.40" y="49.75" width="0.4" height="11.88" fill="#f23645"/>
<rect x="195.40" y="49.75" width="2.40" height="7.25" fill="#f23645"/>
<rect x="199.96" y="51.00" width="0.4" height="8.75" fill="#089981"/>
<rect x="198.96" y="54.12" width="2.40" height="2.88" fill="#089981"/>
<rect x="203.52" y="42.00" width="0.4" height="12.75" fill="#089981"/>
<rect x="202.52" y="49.75" width="2.40" height="5.00" fill="#089981"/>
<rect x="207.08" y="49.75" width="0.4" height="28.75" fill="#f23645"/>
<rect x="206.08" y="49.75" width="2.40" height="20.00" fill="#f23645"/>
<rect x="210.64" y="63.50" width="0.4" height="30.12" fill="#f23645"/>
<rect x="209.64" y="69.75" width="2.40" height="23.88" fill="#f23645"/>
<rect x="214.20" y="87.38" width="0.4" height="8.12" fill="#f23645"/>
<rect x="213.20" y="93.00" width="2.40" height="1.88" fill="#f23645"/>
<rect x="217.76" y="94.88" width="0.4" height="18.75" fill="#f23645"/>
<rect x="216.76" y="94.88" width="2.40" height="15.00" fill="#f23645"/>
<rect x="220.32" y="109.25" width="2.40" height="12.50" fill="#f23645"/>
<rect x="224.88" y="100.50" width="0.4" height="24.00" fill="#089981"/>
<rect x="223.88" y="104.25" width="2.40" height="17.50" fill="#089981"/>
<rect x="228.44" y="99.88" width="0.4" height="17.12" fill="#f23645"/>
<rect x="227.44" y="104.25" width="2.40" height="12.75" fill="#f23645"/>
<rect x="232.00" y="108.00" width="0.4" height="15.00" fill="#089981"/>
<rect x="231.00" y="113.00" width="2.40" height="4.00" fill="#089981"/>
<rect x="235.55" y="91.12" width="0.4" height="21.88" fill="#089981"/>
<rect x="234.55" y="93.25" width="2.40" height="19.75" fill="#089981"/>
<rect x="239.11" y="89.00" width="0.4" height="10.88" fill="#f23645"/>
<rect x="238.11" y="93.00" width="2.40" height="1.88" fill="#f23645"/>
<rect x="242.67" y="75.25" width="0.4" height="21.25" fill="#089981"/>
<rect x="241.67" y="75.25" width="2.40" height="19.62" fill="#089981"/>
<rect x="246.23" y="31.00" width="0.4" height="44.75" fill="#089981"/>
<rect x="245.23" y="41.62" width="2.40" height="34.12" fill="#089981"/>
<rect x="249.79" y="36.00" width="0.4" height="28.12" fill="#089981"/>
<rect x="248.79" y="36.00" width="2.40" height="5.00" fill="#089981"/>
<rect x="252.35" y="36.00" width="2.40" height="25.00" fill="#f23645"/>
<rect x="256.91" y="42.25" width="0.4" height="20.62" fill="#089981"/>
<rect x="255.91" y="42.25" width="2.40" height="18.75" fill="#089981"/>
<rect x="260.47" y="35.38" width="0.4" height="9.38" fill="#089981"/>
<rect x="259.47" y="41.62" width="2.40" height="1.25" fill="#089981"/>
<rect x="264.03" y="37.25" width="0.4" height="17.50" fill="#f23645"/>
<rect x="263.03" y="42.00" width="2.40" height="10.25" fill="#f23645"/>
<rect x="267.59" y="44.75" width="0.4" height="11.88" fill="#f23645"/>
<rect x="266.59" y="52.00" width="2.40" height="4.62" fill="#f23645"/>
<rect x="271.15" y="54.12" width="0.4" height="6.88" fill="#f23645"/>
<rect x="270.15" y="55.75" width="2.40" height="1.50" fill="#f23645"/>
<rect x="274.71" y="46.62" width="0.4" height="10.62" fill="#089981"/>
<rect x="273.71" y="52.25" width="2.40" height="5.00" fill="#089981"/>
<rect x="278.27" y="47.88" width="0.4" height="5.88" fill="#089981"/>
<rect x="277.27" y="49.12" width="2.40" height="3.38" fill="#089981"/>
<rect x="281.83" y="49.12" width="0.4" height="10.62" fill="#f23645"/>
<rect x="280.83" y="49.12" width="2.40" height="2.50" fill="#f23645"/>
<rect x="285.39" y="51.25" width="0.4" height="6.00" fill="#f23645"/>
<rect x="284.39" y="51.25" width="2.40" height="1.62" fill="#f23645"/>
<rect x="288.95" y="42.25" width="0.4" height="13.75" fill="#f23645"/>
<rect x="287.95" y="52.50" width="2.40" height="3.50" fill="#f23645"/>
<rect x="291.51" y="56.00" width="2.40" height="9.00" fill="#f23645"/>
<rect x="296.06" y="56.62" width="0.4" height="11.88" fill="#089981"/>
<rect x="295.06" y="56.62" width="2.40" height="8.38" fill="#089981"/>
<rect x="299.62" y="51.62" width="0.4" height="10.00" fill="#f23645"/>
<rect x="298.62" y="56.00" width="2.40" height="2.25" fill="#f23645"/>
<rect x="303.18" y="51.62" width="0.4" height="10.62" fill="#089981"/>
<rect x="302.18" y="51.62" width="2.40" height="6.25" fill="#089981"/>
<rect x="306.74" y="46.00" width="0.4" height="11.88" fill="#089981"/>
<rect x="305.74" y="46.00" width="2.40" height="6.00" fill="#089981"/>
<rect x="310.30" y="46.00" width="0.4" height="11.88" fill="#089981"/>
<rect x="309.30" y="46.00" width="2.40" height="6.00" fill="#089981"/>
<rect x="313.86" y="38.50" width="0.4" height="15.62" fill="#089981"/>
<rect x="312.86" y="44.12" width="2.40" height="1.88" fill="#089981"/>
<rect x="317.42" y="36.00" width="0.4" height="8.75" fill="#089981"/>
<rect x="316.42" y="41.00" width="2.40" height="3.75" fill="#089981"/>
<rect x="320.98" y="39.12" width="0.4" height="14.12" fill="#f23645"/>
<rect x="319.98" y="40.75" width="2.40" height="12.50" fill="#f23645"/>
<rect x="323.54" y="53.25" width="2.40" height="4.00" fill="#f23645"/>
<rect x="328.10" y="49.75" width="0.4" height="13.12" fill="#f23645"/>
<rect x="327.10" y="54.12" width="2.40" height="8.75" fill="#f23645"/>
<rect x="330.66" y="62.50" width="2.40" height="17.25" fill="#f23645"/>
<rect x="335.22" y="72.25" width="0.4" height="10.62" fill="#089981"/>
<rect x="334.22" y="78.50" width="2.40" height="1.00" fill="#089981"/>
<rect x="338.78" y="77.88" width="0.4" height="4.38" fill="#089981"/>
<rect x="337.78" y="77.88" width="2.40" height="1.88" fill="#089981"/>
<rect x="342.34" y="76.62" width="0.4" height="4.12" fill="#f23645"/>
<rect x="341.34" y="77.88" width="2.40" height="0.88" fill="#f23645"/>
<rect x="345.90" y="69.75" width="0.4" height="9.00" fill="#089981"/>
<rect x="344.90" y="72.50" width="2.40" height="6.25" fill="#089981"/>
<rect x="348.46" y="72.50" width="2.40" height="13.25" fill="#f23645"/>
<rect x="353.01" y="68.50" width="0.4" height="17.25" fill="#089981"/>
<rect x="352.01" y="78.50" width="2.40" height="7.25" fill="#089981"/>
<rect x="355.57" y="78.50" width="2.40" height="14.38" fill="#f23645"/>
<rect x="360.13" y="92.25" width="0.4" height="13.12" fill="#f23645"/>
<rect x="359.13" y="92.25" width="2.40" height="11.25" fill="#f23645"/>
<rect x="363.69" y="96.00" width="0.4" height="7.25" fill="#089981"/>
<rect x="362.69" y="98.75" width="2.40" height="4.50" fill="#089981"/>
<rect x="367.25" y="95.38" width="0.4" height="6.25" fill="#089981"/>
<rect x="366.25" y="97.50" width="2.40" height="2.00" fill="#089981"/>
<rect x="369.81" y="87.50" width="2.40" height="10.38" fill="#089981"/>
<rect x="373.37" y="87.88" width="2.40" height="4.38" fill="#f23645"/>
<rect x="376.93" y="91.62" width="2.40" height="3.38" fill="#f23645"/>
<rect x="381.49" y="92.25" width="0.4" height="3.50" fill="#089981"/>
<rect x="380.49" y="93.50" width="2.40" height="1.00" fill="#089981"/>
<rect x="384.05" y="94.12" width="2.40" height="3.75" fill="#f23645"/>
<rect x="388.61" y="89.12" width="0.4" height="8.75" fill="#089981"/>
<rect x="387.61" y="92.88" width="2.40" height="5.00" fill="#089981"/>
<rect x="392.17" y="91.00" width="0.4" height="6.88" fill="#f23645"/>
<rect x="391.17" y="92.88" width="2.40" height="1.88" fill="#f23645"/>
<rect x="394.73" y="94.75" width="2.40" height="15.62" fill="#f23645"/>
<rect x="399.29" y="90.38" width="0.4" height="22.12" fill="#089981"/>
<rect x="398.29" y="91.62" width="2.40" height="18.75" fill="#089981"/>
<rect x="402.85" y="76.00" width="0.4" height="16.00" fill="#089981"/>
<rect x="401.85" y="77.88" width="2.40" height="14.12" fill="#089981"/>
<rect x="406.41" y="78.12" width="0.4" height="7.88" fill="#f23645"/>
<rect x="405.41" y="78.12" width="2.40" height="5.38" fill="#f23645"/>
<rect x="409.97" y="60.50" width="0.4" height="22.38" fill="#089981"/>
<rect x="408.97" y="69.75" width="2.40" height="13.12" fill="#089981"/>
<rect x="413.52" y="67.88" width="0.4" height="15.88" fill="#f23645"/>
<rect x="412.52" y="69.75" width="2.40" height="14.00" fill="#f23645"/>
<rect x="417.08" y="80.38" width="0.4" height="11.88" fill="#f23645"/>
<rect x="416.08" y="83.50" width="2.40" height="8.75" fill="#f23645"/>
<rect x="419.64" y="92.00" width="2.40" height="19.00" fill="#f23645"/>
<rect x="424.20" y="104.75" width="0.4" height="18.38" fill="#089981"/>
<rect x="423.20" y="104.75" width="2.40" height="6.25" fill="#089981"/>
<rect x="427.76" y="96.00" width="0.4" height="14.00" fill="#f23645"/>
<rect x="426.76" y="104.75" width="2.40" height="5.25" fill="#f23645"/>
<rect x="431.32" y="109.75" width="0.4" height="10.00" fill="#f23645"/>
<rect x="430.32" y="109.75" width="2.40" height="6.75" fill="#f23645"/>
<rect x="434.88" y="112.75" width="0.4" height="11.00" fill="#089981"/>
<rect x="433.88" y="114.75" width="2.40" height="2.12" fill="#089981"/>
<rect x="438.44" y="112.75" width="0.4" height="23.75" fill="#f23645"/>
<rect x="437.44" y="114.75" width="2.40" height="21.75" fill="#f23645"/>
<rect x="442.00" y="129.38" width="0.4" height="7.12" fill="#089981"/>
<rect x="441.00" y="131.88" width="2.40" height="4.62" fill="#089981"/>
<rect x="445.56" y="130.00" width="0.4" height="14.38" fill="#f23645"/>
<rect x="444.56" y="131.88" width="2.40" height="12.50" fill="#f23645"/>
<rect x="449.12" y="132.25" width="0.4" height="12.12" fill="#089981"/>
<rect x="448.12" y="135.62" width="2.40" height="8.75" fill="#089981"/>
<rect x="452.68" y="132.25" width="0.4" height="3.38" fill="#089981"/>
<rect x="451.68" y="134.00" width="2.40" height="1.62" fill="#089981"/>
<rect x="456.24" y="130.00" width="0.4" height="6.88" fill="#089981"/>
<rect x="455.24" y="133.12" width="2.40" height="1.25" fill="#089981"/>
<rect x="458.80" y="132.75" width="2.40" height="0.75" fill="#089981"/>
<rect x="462.36" y="118.12" width="2.40" height="14.62" fill="#089981"/>
<rect x="466.92" y="115.62" width="0.4" height="5.62" fill="#f23645"/>
<rect x="465.92" y="118.12" width="2.40" height="1.62" fill="#f23645"/>
<rect x="470.48" y="117.25" width="0.4" height="11.50" fill="#f23645"/>
<rect x="469.48" y="118.75" width="2.40" height="10.00" fill="#f23645"/>
<rect x="473.03" y="128.50" width="2.40" height="32.12" fill="#f23645"/>
<rect x="477.59" y="160.62" width="0.4" height="28.12" fill="#f23645"/>
<rect x="476.59" y="160.62" width="2.40" height="22.50" fill="#f23645"/>
<rect x="481.15" y="171.25" width="0.4" height="17.50" fill="#089981"/>
<rect x="480.15" y="171.25" width="2.40" height="12.50" fill="#089981"/>
<rect x="484.71" y="153.12" width="0.4" height="18.75" fill="#089981"/>
<rect x="483.71" y="158.75" width="2.40" height="13.12" fill="#089981"/>
<rect x="488.27" y="158.12" width="0.4" height="9.38" fill="#089981"/>
<rect x="487.27" y="158.12" width="2.40" height="1.62" fill="#089981"/>
<rect x="491.83" y="136.25" width="0.4" height="22.50" fill="#089981"/>
<rect x="490.83" y="140.62" width="2.40" height="18.12" fill="#089981"/>
<rect x="495.39" y="134.75" width="0.4" height="11.75" fill="#f23645"/>
<rect x="494.39" y="140.00" width="2.40" height="6.50" fill="#f23645"/>
<rect x="498.95" y="139.00" width="0.4" height="7.88" fill="#089981"/>
<rect x="497.95" y="143.12" width="2.40" height="3.75" fill="#089981"/>
<rect x="502.51" y="142.75" width="0.4" height="23.50" fill="#f23645"/>
<rect x="501.51" y="142.75" width="2.40" height="14.75" fill="#f23645"/>
<rect x="505.07" y="147.25" width="2.40" height="10.25" fill="#089981"/>
<rect x="509.63" y="121.88" width="0.4" height="25.38" fill="#089981"/>
<rect x="508.63" y="139.38" width="2.40" height="7.88" fill="#089981"/>
<rect x="513.19" y="139.00" width="0.4" height="7.88" fill="#f23645"/>
<rect x="512.19" y="139.00" width="2.40" height="4.75" fill="#f23645"/>
<rect x="516.75" y="140.00" width="0.4" height="5.62" fill="#089981"/>
<rect x="515.75" y="140.00" width="2.40" height="3.75" fill="#089981"/>
<rect x="520.31" y="132.25" width="0.4" height="7.75" fill="#089981"/>
<rect x="519.31" y="139.00" width="2.40" height="1.00" fill="#089981"/>
<rect x="523.87" y="132.25" width="0.4" height="7.12" fill="#089981"/>
<rect x="522.87" y="134.75" width="2.40" height="4.62" fill="#089981"/>
<rect x="527.43" y="128.12" width="0.4" height="6.62" fill="#089981"/>
<rect x="526.43" y="131.00" width="2.40" height="3.75" fill="#089981"/>
<rect x="530.98" y="131.25" width="0.4" height="7.50" fill="#f23645"/>
<rect x="529.98" y="131.25" width="2.40" height="2.50" fill="#f23645"/>
<rect x="533.54" y="133.50" width="2.40" height="8.75" fill="#f23645"/>
<rect x="537.10" y="141.88" width="2.40" height="5.00" fill="#f23645"/>
<rect x="541.66" y="139.75" width="0.4" height="7.12" fill="#089981"/>
<rect x="540.66" y="141.88" width="2.40" height="5.00" fill="#089981"/>
<rect x="545.22" y="140.62" width="0.4" height="3.75" fill="#089981"/>
<rect x="544.22" y="140.62" width="2.40" height="1.25" fill="#089981"/>
<rect x="548.78" y="130.00" width="0.4" height="11.00" fill="#089981"/>
<rect x="547.78" y="136.50" width="2.40" height="4.50" fill="#089981"/>
<rect x="552.34" y="136.50" width="0.4" height="6.62" fill="#f23645"/>
<rect x="551.34" y="136.50" width="2.40" height="3.25" fill="#f23645"/>
<rect x="555.90" y="133.12" width="0.4" height="8.75" fill="#089981"/>
<rect x="554.90" y="138.12" width="2.40" height="1.62" fill="#089981"/>
<rect x="559.46" y="136.25" width="0.4" height="6.00" fill="#f23645"/>
<rect x="558.46" y="138.12" width="2.40" height="1.25" fill="#f23645"/>
<rect x="563.02" y="122.50" width="0.4" height="16.50" fill="#089981"/>
<rect x="562.02" y="137.50" width="2.40" height="1.50" fill="#089981"/>
<rect x="566.58" y="129.38" width="0.4" height="8.75" fill="#089981"/>
<rect x="565.58" y="132.75" width="2.40" height="5.38" fill="#089981"/>
<rect x="569.14" y="121.25" width="2.40" height="11.50" fill="#089981"/>
<rect x="573.70" y="119.00" width="0.4" height="14.12" fill="#f23645"/>
<rect x="572.70" y="121.25" width="2.40" height="11.88" fill="#f23645"/>
<rect x="577.26" y="128.12" width="0.4" height="5.00" fill="#089981"/>
<rect x="576.26" y="132.25" width="2.40" height="0.88" fill="#089981"/>
<rect x="580.82" y="129.38" width="0.4" height="4.62" fill="#f23645"/>
<rect x="579.82" y="131.88" width="2.40" height="2.12" fill="#f23645"/>
<rect x="584.38" y="133.75" width="0.4" height="7.50" fill="#f23645"/>
<rect x="583.38" y="133.75" width="2.40" height="5.25" fill="#f23645"/>
<rect x="587.94" y="138.75" width="0.4" height="6.88" fill="#f23645"/>
<rect x="586.94" y="138.75" width="2.40" height="4.38" fill="#f23645"/>
<rect x="591.49" y="140.00" width="0.4" height="5.62" fill="#f23645"/>
<rect x="590.49" y="142.75" width="2.40" height="1.62" fill="#f23645"/>
<rect x="595.05" y="144.00" width="0.4" height="16.00" fill="#f23645"/>
<rect x="594.05" y="144.00" width="2.40" height="12.25" fill="#f23645"/>
<rect x="597.61" y="146.88" width="2.40" height="9.38" fill="#089981"/>
<rect x="602.17" y="146.88" width="0.4" height="8.12" fill="#f23645"/>
<rect x="601.17" y="146.88" width="2.40" height="6.88" fill="#f23645"/>
<rect x="604.73" y="151.00" width="2.40" height="2.50" fill="#089981"/>
<rect x="609.29" y="134.38" width="0.4" height="17.12" fill="#089981"/>
<rect x="608.29" y="137.38" width="2.40" height="14.12" fill="#089981"/>
<rect x="612.85" y="137.38" width="0.4" height="7.50" fill="#f23645"/>
<rect x="611.85" y="137.38" width="2.40" height="1.88" fill="#f23645"/>
<rect x="616.41" y="137.38" width="0.4" height="4.38" fill="#f23645"/>
<rect x="615.41" y="139.00" width="2.40" height="2.75" fill="#f23645"/>
<rect x="618.97" y="141.75" width="2.40" height="1.25" fill="#f23645"/>
<rect x="622.53" y="142.75" width="2.40" height="4.00" fill="#f23645"/>
<rect x="627.09" y="146.50" width="0.4" height="2.75" fill="#f23645"/>
<rect x="626.09" y="146.50" width="2.40" height="1.50" fill="#f23645"/>
<rect x="629.65" y="147.38" width="2.40" height="4.38" fill="#f23645"/>
<rect x="634.21" y="140.50" width="0.4" height="11.00" fill="#089981"/>
<rect x="633.21" y="144.25" width="2.40" height="7.25" fill="#089981"/>
<rect x="637.77" y="143.00" width="0.4" height="6.88" fill="#f23645"/>
<rect x="636.77" y="144.25" width="2.40" height="5.62" fill="#f23645"/>
<rect x="641.33" y="142.38" width="0.4" height="10.38" fill="#f23645"/>
<rect x="640.33" y="149.88" width="2.40" height="2.88" fill="#f23645"/>
<rect x="644.89" y="153.00" width="0.4" height="3.12" fill="#f23645"/>
<rect x="643.89" y="153.00" width="2.40" height="2.25" fill="#f23645"/>
<rect x="647.45" y="154.88" width="2.40" height="8.75" fill="#f23645"/>
<rect x="652.00" y="161.75" width="0.4" height="4.75" fill="#f23645"/>
<rect x="651.00" y="163.00" width="2.40" height="3.50" fill="#f23645"/>
<rect x="655.56" y="154.00" width="0.4" height="15.50" fill="#089981"/>
<rect x="654.56" y="154.00" width="2.40" height="12.12" fill="#089981"/>
<rect x="659.12" y="153.25" width="0.4" height="7.25" fill="#089981"/>
<rect x="658.12" y="153.25" width="2.40" height="1.25" fill="#089981"/>
<rect x="662.68" y="143.00" width="0.4" height="16.88" fill="#f23645"/>
<rect x="661.68" y="153.00" width="2.40" height="6.88" fill="#f23645"/>
<rect x="666.24" y="158.62" width="0.4" height="4.62" fill="#089981"/>
<rect x="665.24" y="158.62" width="2.40" height="1.62" fill="#089981"/>
<rect x="669.80" y="145.75" width="0.4" height="16.00" fill="#089981"/>
<rect x="668.80" y="148.25" width="2.40" height="11.62" fill="#089981"/>
<rect x="673.36" y="146.12" width="0.4" height="10.62" fill="#089981"/>
<rect x="672.36" y="146.12" width="2.40" height="2.88" fill="#089981"/>
<rect x="676.92" y="143.62" width="0.4" height="5.00" fill="#089981"/>
<rect x="675.92" y="144.88" width="2.40" height="1.62" fill="#089981"/>
<rect x="680.48" y="141.12" width="0.4" height="5.62" fill="#f23645"/>
<rect x="679.48" y="144.88" width="2.40" height="0.88" fill="#f23645"/>
<rect x="684.04" y="139.25" width="0.4" height="6.25" fill="#089981"/>
<rect x="683.04" y="144.88" width="2.40" height="0.70" fill="#089981"/>
<rect x="687.60" y="135.50" width="0.4" height="10.25" fill="#089981"/>
<rect x="686.60" y="139.00" width="2.40" height="6.75" fill="#089981"/>
<rect x="691.16" y="134.25" width="0.4" height="10.00" fill="#f23645"/>
<rect x="690.16" y="138.62" width="2.40" height="2.50" fill="#f23645"/>
<rect x="693.72" y="141.12" width="2.40" height="1.88" fill="#f23645"/>
<rect x="698.28" y="143.00" width="0.4" height="9.38" fill="#f23645"/>
<rect x="697.28" y="143.00" width="2.40" height="6.25" fill="#f23645"/>
<rect x="701.84" y="143.00" width="0.4" height="7.75" fill="#f23645"/>
<rect x="700.84" y="149.25" width="2.40" height="1.50" fill="#f23645"/>
<rect x="704.40" y="150.75" width="2.40" height="4.50" fill="#f23645"/>
<rect x="707.95" y="154.88" width="2.40" height="8.75" fill="#f23645"/>
<rect x="712.51" y="161.75" width="0.4" height="6.00" fill="#f23645"/>
<rect x="711.51" y="163.62" width="2.40" height="4.12" fill="#f23645"/>
<rect x="716.07" y="144.88" width="0.4" height="22.88" fill="#089981"/>
<rect x="715.07" y="146.50" width="2.40" height="21.25" fill="#089981"/>
<rect x="718.63" y="124.25" width="2.40" height="22.75" fill="#089981"/>
<rect x="723.19" y="113.88" width="0.4" height="10.62" fill="#089981"/>
<rect x="722.19" y="117.00" width="2.40" height="7.50" fill="#089981"/>
<rect x="726.75" y="108.25" width="0.4" height="15.00" fill="#089981"/>
<rect x="725.75" y="110.12" width="2.40" height="7.50" fill="#089981"/>
<rect x="730.31" y="105.12" width="0.4" height="7.50" fill="#089981"/>
<rect x="729.31" y="105.12" width="2.40" height="5.38" fill="#089981"/>
<rect x="732.87" y="105.12" width="2.40" height="2.50" fill="#f23645"/>
<rect x="737.43" y="104.25" width="0.4" height="6.50" fill="#f23645"/>
<rect x="736.43" y="107.25" width="2.40" height="3.50" fill="#f23645"/>
<rect x="739.99" y="110.50" width="2.40" height="4.62" fill="#f23645"/>
<rect x="744.55" y="108.25" width="0.4" height="10.25" fill="#f23645"/>
<rect x="743.55" y="114.75" width="2.40" height="3.75" fill="#f23645"/>
<rect x="748.11" y="110.75" width="0.4" height="10.25" fill="#089981"/>
<rect x="747.11" y="110.75" width="2.40" height="7.75" fill="#089981"/>
<rect x="750.67" y="110.75" width="2.40" height="4.00" fill="#f23645"/>
<rect x="755.23" y="108.00" width="0.4" height="10.25" fill="#089981"/>
<rect x="754.23" y="110.50" width="2.40" height="4.62" fill="#089981"/>
<rect x="758.79" y="110.50" width="0.4" height="7.75" fill="#f23645"/>
<rect x="757.79" y="110.50" width="2.40" height="3.38" fill="#f23645"/>
<rect x="762.35" y="107.00" width="0.4" height="7.75" fill="#f23645"/>
<rect x="761.35" y="113.50" width="2.40" height="1.25" fill="#f23645"/>
<rect x="765.91" y="114.75" width="0.4" height="14.12" fill="#f23645"/>
<rect x="764.91" y="114.75" width="2.40" height="10.00" fill="#f23645"/>
<rect x="769.46" y="121.38" width="0.4" height="6.88" fill="#f23645"/>
<rect x="768.46" y="124.75" width="2.40" height="2.25" fill="#f23645"/>
<rect x="773.02" y="123.88" width="0.4" height="4.38" fill="#f23645"/>
<rect x="772.02" y="126.00" width="2.40" height="1.00" fill="#f23645"/>
<rect x="775.58" y="115.75" width="2.40" height="11.25" fill="#089981"/>
<rect x="780.14" y="116.00" width="0.4" height="4.75" fill="#f23645"/>
<rect x="779.14" y="116.00" width="2.40" height="1.25" fill="#f23645"/>
<rect x="783.70" y="111.00" width="0.4" height="7.00" fill="#089981"/>
<rect x="782.70" y="116.38" width="2.40" height="1.62" fill="#089981"/>
<rect x="787.26" y="110.12" width="0.4" height="6.88" fill="#089981"/>
<rect x="786.26" y="112.25" width="2.40" height="4.75" fill="#089981"/>
<rect x="790.82" y="109.50" width="0.4" height="6.88" fill="#f23645"/>
<rect x="789.82" y="112.62" width="2.40" height="1.25" fill="#f23645"/>
<rect x="794.38" y="109.50" width="0.4" height="3.75" fill="#089981"/>
<rect x="793.38" y="111.00" width="2.40" height="2.25" fill="#089981"/>
<rect x="796.94" y="111.38" width="2.40" height="6.62" fill="#f23645"/>
<rect x="800.50" y="118.00" width="2.40" height="8.38" fill="#f23645"/>
<rect x="804.06" y="126.75" width="2.40" height="6.50" fill="#f23645"/>
<rect x="807.62" y="133.25" width="2.40" height="18.50" fill="#f23645"/>
<rect x="811.18" y="151.12" width="2.40" height="3.12" fill="#f23645"/>
<rect x="815.74" y="150.25" width="0.4" height="8.38" fill="#f23645"/>
<rect x="814.74" y="154.25" width="2.40" height="4.38" fill="#f23645"/>
<rect x="819.30" y="147.38" width="0.4" height="11.25" fill="#089981"/>
<rect x="818.30" y="151.12" width="2.40" height="7.50" fill="#089981"/>
<rect x="822.86" y="151.12" width="0.4" height="5.62" fill="#f23645"/>
<rect x="821.86" y="151.12" width="2.40" height="3.75" fill="#f23645"/>
<rect x="826.42" y="151.50" width="0.4" height="5.25" fill="#089981"/>
<rect x="825.42" y="153.00" width="2.40" height="1.88" fill="#089981"/>
<rect x="829.97" y="148.00" width="0.4" height="4.75" fill="#089981"/>
<rect x="828.97" y="150.75" width="2.40" height="2.00" fill="#089981"/>
<rect x="833.53" y="148.00" width="0.4" height="2.75" fill="#089981"/>
<rect x="832.53" y="149.25" width="2.40" height="1.00" fill="#089981"/>
<rect x="837.09" y="144.25" width="0.4" height="10.00" fill="#089981"/>
<rect x="836.09" y="148.00" width="2.40" height="2.75" fill="#089981"/>
<rect x="839.65" y="148.00" width="2.40" height="9.75" fill="#f23645"/>
<rect x="843.21" y="119.25" width="2.40" height="38.75" fill="#089981"/>
<rect x="847.77" y="92.25" width="0.4" height="33.38" fill="#089981"/>
<rect x="846.77" y="92.25" width="2.40" height="27.12" fill="#089981"/>
<rect x="851.33" y="90.00" width="0.4" height="26.50" fill="#f23645"/>
<rect x="850.33" y="92.25" width="2.40" height="24.25" fill="#f23645"/>
<rect x="854.89" y="99.00" width="0.4" height="17.50" fill="#089981"/>
<rect x="853.89" y="102.50" width="2.40" height="14.00" fill="#089981"/>
<rect x="858.45" y="102.50" width="0.4" height="6.88" fill="#f23645"/>
<rect x="857.45" y="102.50" width="2.40" height="3.50" fill="#f23645"/>
<rect x="862.01" y="103.75" width="0.4" height="7.50" fill="#f23645"/>
<rect x="861.01" y="105.62" width="2.40" height="5.62" fill="#f23645"/>
<rect x="864.57" y="111.25" width="2.40" height="6.50" fill="#f23645"/>
<rect x="869.13" y="117.75" width="0.4" height="8.50" fill="#f23645"/>
<rect x="868.13" y="117.75" width="2.40" height="3.25" fill="#f23645"/>
<rect x="872.69" y="121.12" width="0.4" height="18.12" fill="#f23645"/>
<rect x="871.69" y="121.12" width="2.40" height="13.38" fill="#f23645"/>
<rect x="876.25" y="131.12" width="0.4" height="9.38" fill="#f23645"/>
<rect x="875.25" y="134.00" width="2.40" height="6.50" fill="#f23645"/>
<rect x="879.81" y="140.25" width="0.4" height="11.25" fill="#f23645"/>
<rect x="878.81" y="140.25" width="2.40" height="7.75" fill="#f23645"/>
<rect x="882.37" y="141.25" width="2.40" height="6.25" fill="#089981"/>
<rect x="886.92" y="136.88" width="0.4" height="5.88" fill="#f23645"/>
<rect x="885.92" y="141.25" width="2.40" height="1.50" fill="#f23645"/>
<rect x="890.48" y="143.12" width="0.4" height="5.62" fill="#f23645"/>
<rect x="889.48" y="143.12" width="2.40" height="3.75" fill="#f23645"/>
<rect x="893.04" y="142.25" width="2.40" height="4.62" fill="#089981"/>
<rect x="897.60" y="140.00" width="0.4" height="6.88" fill="#089981"/>
<rect x="896.60" y="140.00" width="2.40" height="2.50" fill="#089981"/>
<rect x="900.16" y="140.00" width="2.40" height="3.75" fill="#f23645"/>
<rect x="904.72" y="137.50" width="0.4" height="6.50" fill="#089981"/>
<rect x="903.72" y="141.00" width="2.40" height="3.00" fill="#089981"/>
<rect x="908.28" y="138.50" width="0.4" height="5.00" fill="#f23645"/>
<rect x="907.28" y="140.00" width="2.40" height="1.88" fill="#f23645"/>
<rect x="910.84" y="142.25" width="2.40" height="5.00" fill="#f23645"/>
<rect x="915.40" y="140.00" width="0.4" height="7.25" fill="#089981"/>
<rect x="914.40" y="143.75" width="2.40" height="3.50" fill="#089981"/>
<rect x="918.96" y="135.62" width="0.4" height="8.75" fill="#089981"/>
<rect x="917.96" y="142.75" width="2.40" height="1.62" fill="#089981"/>
<rect x="922.52" y="128.12" width="0.4" height="14.62" fill="#089981"/>
<rect x="921.52" y="130.62" width="2.40" height="12.12" fill="#089981"/>
<rect x="926.08" y="129.38" width="0.4" height="10.00" fill="#f23645"/>
<rect x="925.08" y="131.00" width="2.40" height="2.75" fill="#f23645"/>
<rect x="929.64" y="126.88" width="0.4" height="15.88" fill="#089981"/>
<rect x="928.64" y="131.50" width="2.40" height="1.62" fill="#089981"/>
<rect x="932.20" y="139.62" width="2.40" height="0.70" fill="#f23645"/>
</g>
<g clip-path="url(#cr)" fill="none" stroke-linejoin="round">
<path d="M4.39,351.27 L7.95,354.38 L11.51,357.75 L15.07,352.51 L18.63,343.40 L22.19,346.16 L25.75,351.26 L29.31,350.17 L32.87,354.31 L36.43,344.43 L39.99,337.61 L43.55,330.23 L47.11,324.98 L50.67,324.04 L54.23,327.26 L57.78,315.45 L61.34,307.88 L64.90,300.74 L68.46,300.31 L72.02,305.84 L75.58,289.38 L79.14,277.24 L82.70,274.57 L86.26,275.59 L89.82,272.08 L93.38,270.38 L96.94,280.64 L100.50,291.93 L104.06,295.99 L107.62,297.39 L111.18,293.60 L114.74,292.87 L118.29,291.95 L121.85,295.74 L125.41,300.91 L128.97,307.63 L132.53,295.40 L136.09,292.57 L139.65,279.54 L143.21,297.48 L146.77,290.18 L150.33,297.45 L153.89,290.18 L157.45,285.51 L161.01,285.35 L164.57,285.35 L168.13,280.38 L171.69,288.94 L175.25,286.48 L178.80,294.84 L182.36,291.16 L185.92,291.63 L189.48,293.28 L193.04,288.82 L196.60,298.58 L200.16,296.57 L203.72,293.54 L207.28,317.76 L210.84,338.00 L214.40,338.90 L217.96,349.04 L221.52,355.89 L225.08,339.70 L228.64,347.28 L232.20,343.77 L235.75,328.24 L239.31,329.38 L242.87,316.12 L246.43,299.31 L249.99,296.98 L253.55,314.81 L257.11,306.29 L260.67,306.02 L264.23,313.34 L267.79,316.30 L271.35,316.74 L274.91,313.80 L278.47,311.94 L282.03,314.06 L285.59,315.17 L289.15,318.03 L292.71,326.01 L296.26,319.30 L299.82,320.80 L303.38,315.42 L306.94,311.05 L310.50,311.05 L314.06,309.49 L317.62,306.83 L321.18,321.42 L324.74,325.69 L328.30,331.51 L331.86,346.24 L335.42,344.77 L338.98,343.99 L342.54,344.79 L346.10,336.52 L349.66,348.67 L353.21,339.60 L356.77,351.21 L360.33,358.32 L363.89,352.43 L367.45,350.86 L371.01,338.88 L374.57,342.92 L378.13,345.24 L381.69,343.31 L385.25,347.28 L388.81,340.48 L392.37,342.36 L395.93,355.97 L399.49,333.41 L403.05,320.72 L406.61,325.99 L410.17,314.66 L413.72,327.16 L417.28,333.85 L420.84,346.46 L424.40,340.84 L427.96,344.26 L431.52,348.39 L435.08,346.61 L438.64,359.29 L442.20,354.52 L445.76,361.06 L449.32,352.17 L452.88,350.54 L456.44,349.61 L460.00,349.19 L463.56,333.85 L467.12,335.20 L470.68,342.45 L474.23,361.56 L477.79,370.80 L481.35,359.54 L484.91,348.81 L488.47,348.28 L492.03,334.39 L495.59,337.99 L499.15,335.35 L502.71,344.18 L506.27,335.99 L509.83,330.08 L513.39,333.09 L516.95,330.11 L520.51,329.29 L524.07,325.70 L527.63,322.53 L531.18,325.11 L534.74,332.81 L538.30,336.77 L541.86,331.60 L545.42,330.29 L548.98,325.92 L552.54,329.40 L556.10,327.53 L559.66,329.00 L563.22,326.61 L566.78,320.66 L570.34,308.20 L573.90,323.56 L577.46,322.59 L581.02,324.80 L584.58,331.02 L588.14,335.91 L591.69,337.39 L595.25,350.01 L598.81,336.65 L602.37,343.60 L605.93,339.79 L609.49,323.24 L613.05,325.43 L616.61,328.40 L620.17,329.93 L623.73,334.53 L627.29,336.07 L630.85,340.69 L634.41,329.36 L637.97,336.51 L641.53,339.99 L645.09,342.99 L648.65,352.19 L652.20,355.06 L655.76,335.02 L659.32,333.95 L662.88,341.82 L666.44,339.85 L670.00,324.97 L673.56,322.23 L677.12,320.58 L680.68,321.96 L684.24,320.66 L687.80,312.29 L691.36,316.18 L694.92,319.63 L698.48,330.32 L702.04,332.72 L705.60,339.68 L709.15,350.77 L712.71,355.50 L716.27,322.06 L719.83,301.13 L723.39,295.94 L726.95,291.40 L730.51,288.28 L734.07,291.99 L737.63,296.67 L741.19,303.11 L744.75,307.98 L748.31,301.03 L751.87,306.90 L755.43,302.98 L758.99,308.09 L762.55,309.44 L766.11,323.74 L769.66,326.66 L773.22,326.66 L776.78,312.72 L780.34,314.98 L783.90,313.92 L787.46,308.92 L791.02,311.77 L794.58,308.12 L798.14,320.34 L801.70,332.64 L805.26,341.25 L808.82,358.77 L812.38,360.69 L815.94,364.01 L819.50,351.86 L823.06,355.13 L826.62,352.08 L830.17,348.35 L833.73,345.82 L837.29,343.64 L840.85,354.39 L844.41,309.20 L847.97,292.51 L851.53,314.94 L855.09,306.91 L858.65,309.84 L862.21,314.26 L865.77,319.63 L869.33,322.31 L872.89,332.72 L876.45,336.96 L880.01,342.06 L883.57,335.98 L887.12,337.09 L890.68,340.23 L894.24,335.58 L897.80,333.30 L901.36,336.65 L904.92,333.61 L908.48,334.47 L912.04,339.80 L915.60,335.37 L919.16,334.07 L922.72,319.77 L926.28,323.59 L929.84,321.01 L933.40,331.08" stroke="#7e57c2" stroke-width="0.75"/>
</g>
<g id="axis-text" stroke-linejoin="round">
<text transform="translate(975.10,23.00) scale(0.5000,0.5)" font-size="16.00" fill="#131722">0.45</text>
<text transform="translate(975.10,67.00) scale(0.5000,0.5)" font-size="16.00" fill="#131722">0.4</text>
<text transform="translate(975.10,154.00) scale(0.5000,0.5)" font-size="16.00" fill="#131722">0.3</text>
<text transform="translate(975.10,197.00) scale(0.5000,0.5)" font-size="16.00" fill="#131722">0.25</text>
<text transform="translate(975.10,241.00) scale(0.5000,0.5)" font-size="16.00" fill="#131722">0.2</text>
<text transform="translate(975.10,273.43) scale(0.5000,0.5)" font-size="16.00" fill="#131722">80.00</text>
<text transform="translate(975.10,292.15) scale(0.5000,0.5)" font-size="16.00" fill="#131722">70.00</text>
<text transform="translate(975.10,310.88) scale(0.5000,0.5)" font-size="16.00" fill="#131722">60.00</text>
<text transform="translate(975.10,329.60) scale(0.5000,0.5)" font-size="16.00" fill="#131722">50.00</text>
<text transform="translate(975.10,348.32) scale(0.5000,0.5)" font-size="16.00" fill="#131722">40.00</text>
<text transform="translate(975.10,367.05) scale(0.5000,0.5)" font-size="16.00" fill="#131722">30.00</text>
<text transform="translate(82.50,394.00) scale(0.5000,0.5)" font-size="15.20" fill="#131722" font-weight="bold" text-anchor="middle" stroke="#131722" stroke-width="0.2">13</text>
<text transform="translate(167.93,394.00) scale(0.5000,0.5)" font-size="15.20" fill="#131722" font-weight="bold" text-anchor="middle" stroke="#131722" stroke-width="0.2">14</text>
<text transform="translate(253.35,394.00) scale(0.5000,0.5)" font-size="15.20" fill="#131722" font-weight="bold" text-anchor="middle" stroke="#131722" stroke-width="0.2">15</text>
<text transform="translate(338.78,394.00) scale(0.5000,0.5)" font-size="15.20" fill="#131722" font-weight="bold" text-anchor="middle" stroke="#131722" stroke-width="0.2">16</text>
<text transform="translate(424.20,394.00) scale(0.5000,0.5)" font-size="15.20" fill="#131722" font-weight="bold" text-anchor="middle" stroke="#131722" stroke-width="0.2">17</text>
<text transform="translate(509.63,394.00) scale(0.5000,0.5)" font-size="15.20" fill="#131722" font-weight="bold" text-anchor="middle" stroke="#131722" stroke-width="0.2">18</text>
<text transform="translate(595.05,394.00) scale(0.5000,0.5)" font-size="15.20" fill="#131722" font-weight="bold" text-anchor="middle" stroke="#131722" stroke-width="0.2">19</text>
<text transform="translate(680.48,394.00) scale(0.5000,0.5)" font-size="15.20" fill="#131722" font-weight="bold" text-anchor="middle" stroke="#131722" stroke-width="0.2">20</text>
<text transform="translate(765.91,394.00) scale(0.5000,0.5)" font-size="15.20" fill="#131722" font-weight="bold" text-anchor="middle" stroke="#131722" stroke-width="0.2">21</text>
<text transform="translate(851.33,394.00) scale(0.5000,0.5)" font-size="15.20" fill="#131722" font-weight="bold" text-anchor="middle" stroke="#131722" stroke-width="0.2">22</text>
<text transform="translate(936.76,394.00) scale(0.5000,0.5)" font-size="15.20" fill="#131722" font-weight="bold" text-anchor="middle" stroke="#131722" stroke-width="0.2">23</text>
<text transform="translate(11.00,17.90) scale(0.4736,0.5)" font-size="14.50" fill="#131722" stroke="#131722" stroke-width="0.2">USELESS/USD,</text>
<text transform="translate(63.60,17.90) scale(0.4316,0.5)" font-size="14.50" fill="#131722" stroke="#131722" stroke-width="0.2">1h,</text>
<text transform="translate(74.70,17.90) scale(0.5112,0.5)" font-size="14.50" fill="#131722" stroke="#131722" stroke-width="0.2">CoinMarketCap</text>
<text transform="translate(131.00,17.90) scale(0.5000,0.5)" font-size="14.50" fill="#131722" stroke="#131722" stroke-width="0.2">O</text>
<text transform="translate(136.60,17.90) scale(0.4961,0.5)" font-size="14.50" fill="#f23645" stroke="#f23645" stroke-width="0.2">0.3135</text>
<text transform="translate(162.80,17.90) scale(0.5000,0.5)" font-size="14.50" fill="#131722" stroke="#131722" stroke-width="0.2">H</text>
<text transform="translate(168.40,17.90) scale(0.4961,0.5)" font-size="14.50" fill="#f23645" stroke="#f23645" stroke-width="0.2">0.3135</text>
<text transform="translate(195.20,17.90) scale(0.5000,0.5)" font-size="14.50" fill="#131722" stroke="#131722" stroke-width="0.2">L</text>
<text transform="translate(199.40,17.90) scale(0.4961,0.5)" font-size="14.50" fill="#f23645" stroke="#f23645" stroke-width="0.2">0.3135</text>
<text transform="translate(226.00,17.90) scale(0.5000,0.5)" font-size="14.50" fill="#131722" stroke="#131722" stroke-width="0.2">C</text>
<text transform="translate(231.20,17.90) scale(0.4961,0.5)" font-size="14.50" fill="#f23645" stroke="#f23645" stroke-width="0.2">0.3135</text>
<text transform="translate(257.70,17.90) scale(0.5416,0.5)" font-size="14.50" fill="#f23645" stroke="#f23645" stroke-width="0.2">-0.00884</text>
<text transform="translate(293.40,17.90) scale(0.4794,0.5)" font-size="14.50" fill="#f23645" stroke="#f23645" stroke-width="0.2">(−2.74%)</text>
<text transform="translate(11.00,27.90) scale(0.4900,0.5)" font-size="14.50" fill="#131722" stroke="#131722" stroke-width="0.2">Volume</text>
<text transform="translate(39.60,27.90) scale(0.5000,0.5)" font-size="14.50" fill="#f23645" stroke="#f23645" stroke-width="0.2">126.397 M</text>
<text transform="translate(11.00,37.90) scale(0.5185,0.5)" font-size="14.50" fill="#131722" stroke="#131722" stroke-width="0.2">MA Cross (9, 26)</text>
<text transform="translate(71.80,37.90) scale(0.4961,0.5)" font-size="14.50" fill="#43a047" stroke="#43a047" stroke-width="0.2">0.3137</text>
<text transform="translate(98.00,37.90) scale(0.5412,0.5)" font-size="14.50" fill="#ff6d00" stroke="#ff6d00" stroke-width="0.2">0.3226</text>
<text transform="translate(125.60,37.90) scale(0.5000,0.5)" font-size="11.80" fill="#2a2e39" stroke="#2a2e39" stroke-width="0.25" font-family="DejaVu Sans">∅</text>
<text transform="translate(11.00,268.80) scale(0.4835,0.5)" font-size="14.50" fill="#131722" stroke="#131722" stroke-width="0.2">RSI (14)</text>
<text transform="translate(41.50,268.80) scale(0.4988,0.5)" font-size="14.50" fill="#7e57c2" stroke="#7e57c2" stroke-width="0.2">47.94</text>
<text transform="translate(20.20,412.80) scale(0.4986,0.5)" font-size="16.00" fill="#131722" stroke="#131722" stroke-width="0.15">TradingView</text>
</g>
<g id="labels">
<rect x="970.00" y="104.00" width="33.06" height="10.35" rx="1" fill="#ff6d00"/>
<rect x="970.00" y="114.25" width="33.06" height="10.25" rx="1" fill="#2196f3"/>
<rect x="970.00" y="124.40" width="33.06" height="10.30" rx="1" fill="#43a047"/>
<rect x="970.00" y="134.60" width="33.06" height="10.05" rx="1" fill="#f23645"/>
<rect x="970.00" y="221.00" width="44.90" height="10.10" rx="1" fill="#f7525f"/>
<rect x="970.00" y="325.80" width="28.10" height="9.50" rx="1" fill="#7e57c2"/>
</g>
<g id="label-text" stroke-linejoin="round">
<text transform="translate(975.00,111.90) scale(0.5000,0.5)" font-size="16.00" fill="#fff" stroke="#fff" stroke-width="0.12">0.3226</text>
<text transform="translate(975.10,122.00) scale(0.5000,0.5)" font-size="16.00" fill="#fff" stroke="#fff" stroke-width="0.12">0.3161</text>
<text transform="translate(975.10,132.10) scale(0.5000,0.5)" font-size="16.00" fill="#fff" stroke="#fff" stroke-width="0.12">0.3137</text>
<text transform="translate(975.10,142.30) scale(0.5000,0.5)" font-size="16.00" fill="#fff" stroke="#fff" stroke-width="0.12">0.3135</text>
<text transform="translate(975.60,228.90) scale(0.4747,0.5)" font-size="16.00" fill="#fff" stroke="#fff" stroke-width="0.12">126.397 M</text>
<text transform="translate(975.30,333.40) scale(0.5000,0.5)" font-size="16.00" fill="#fff" stroke="#fff" stroke-width="0.12">47.94</text>
</g>
<g id="logo" transform="translate(6.1,405.7) scale(0.324)" fill="#131722">
<path d="M14 22H7V11H0V4h14v18zM28 22h-8l7.5-18h8L28 22z"/><circle cx="20" cy="8" r="4"/>
</g>
</svg>
</body></html>
